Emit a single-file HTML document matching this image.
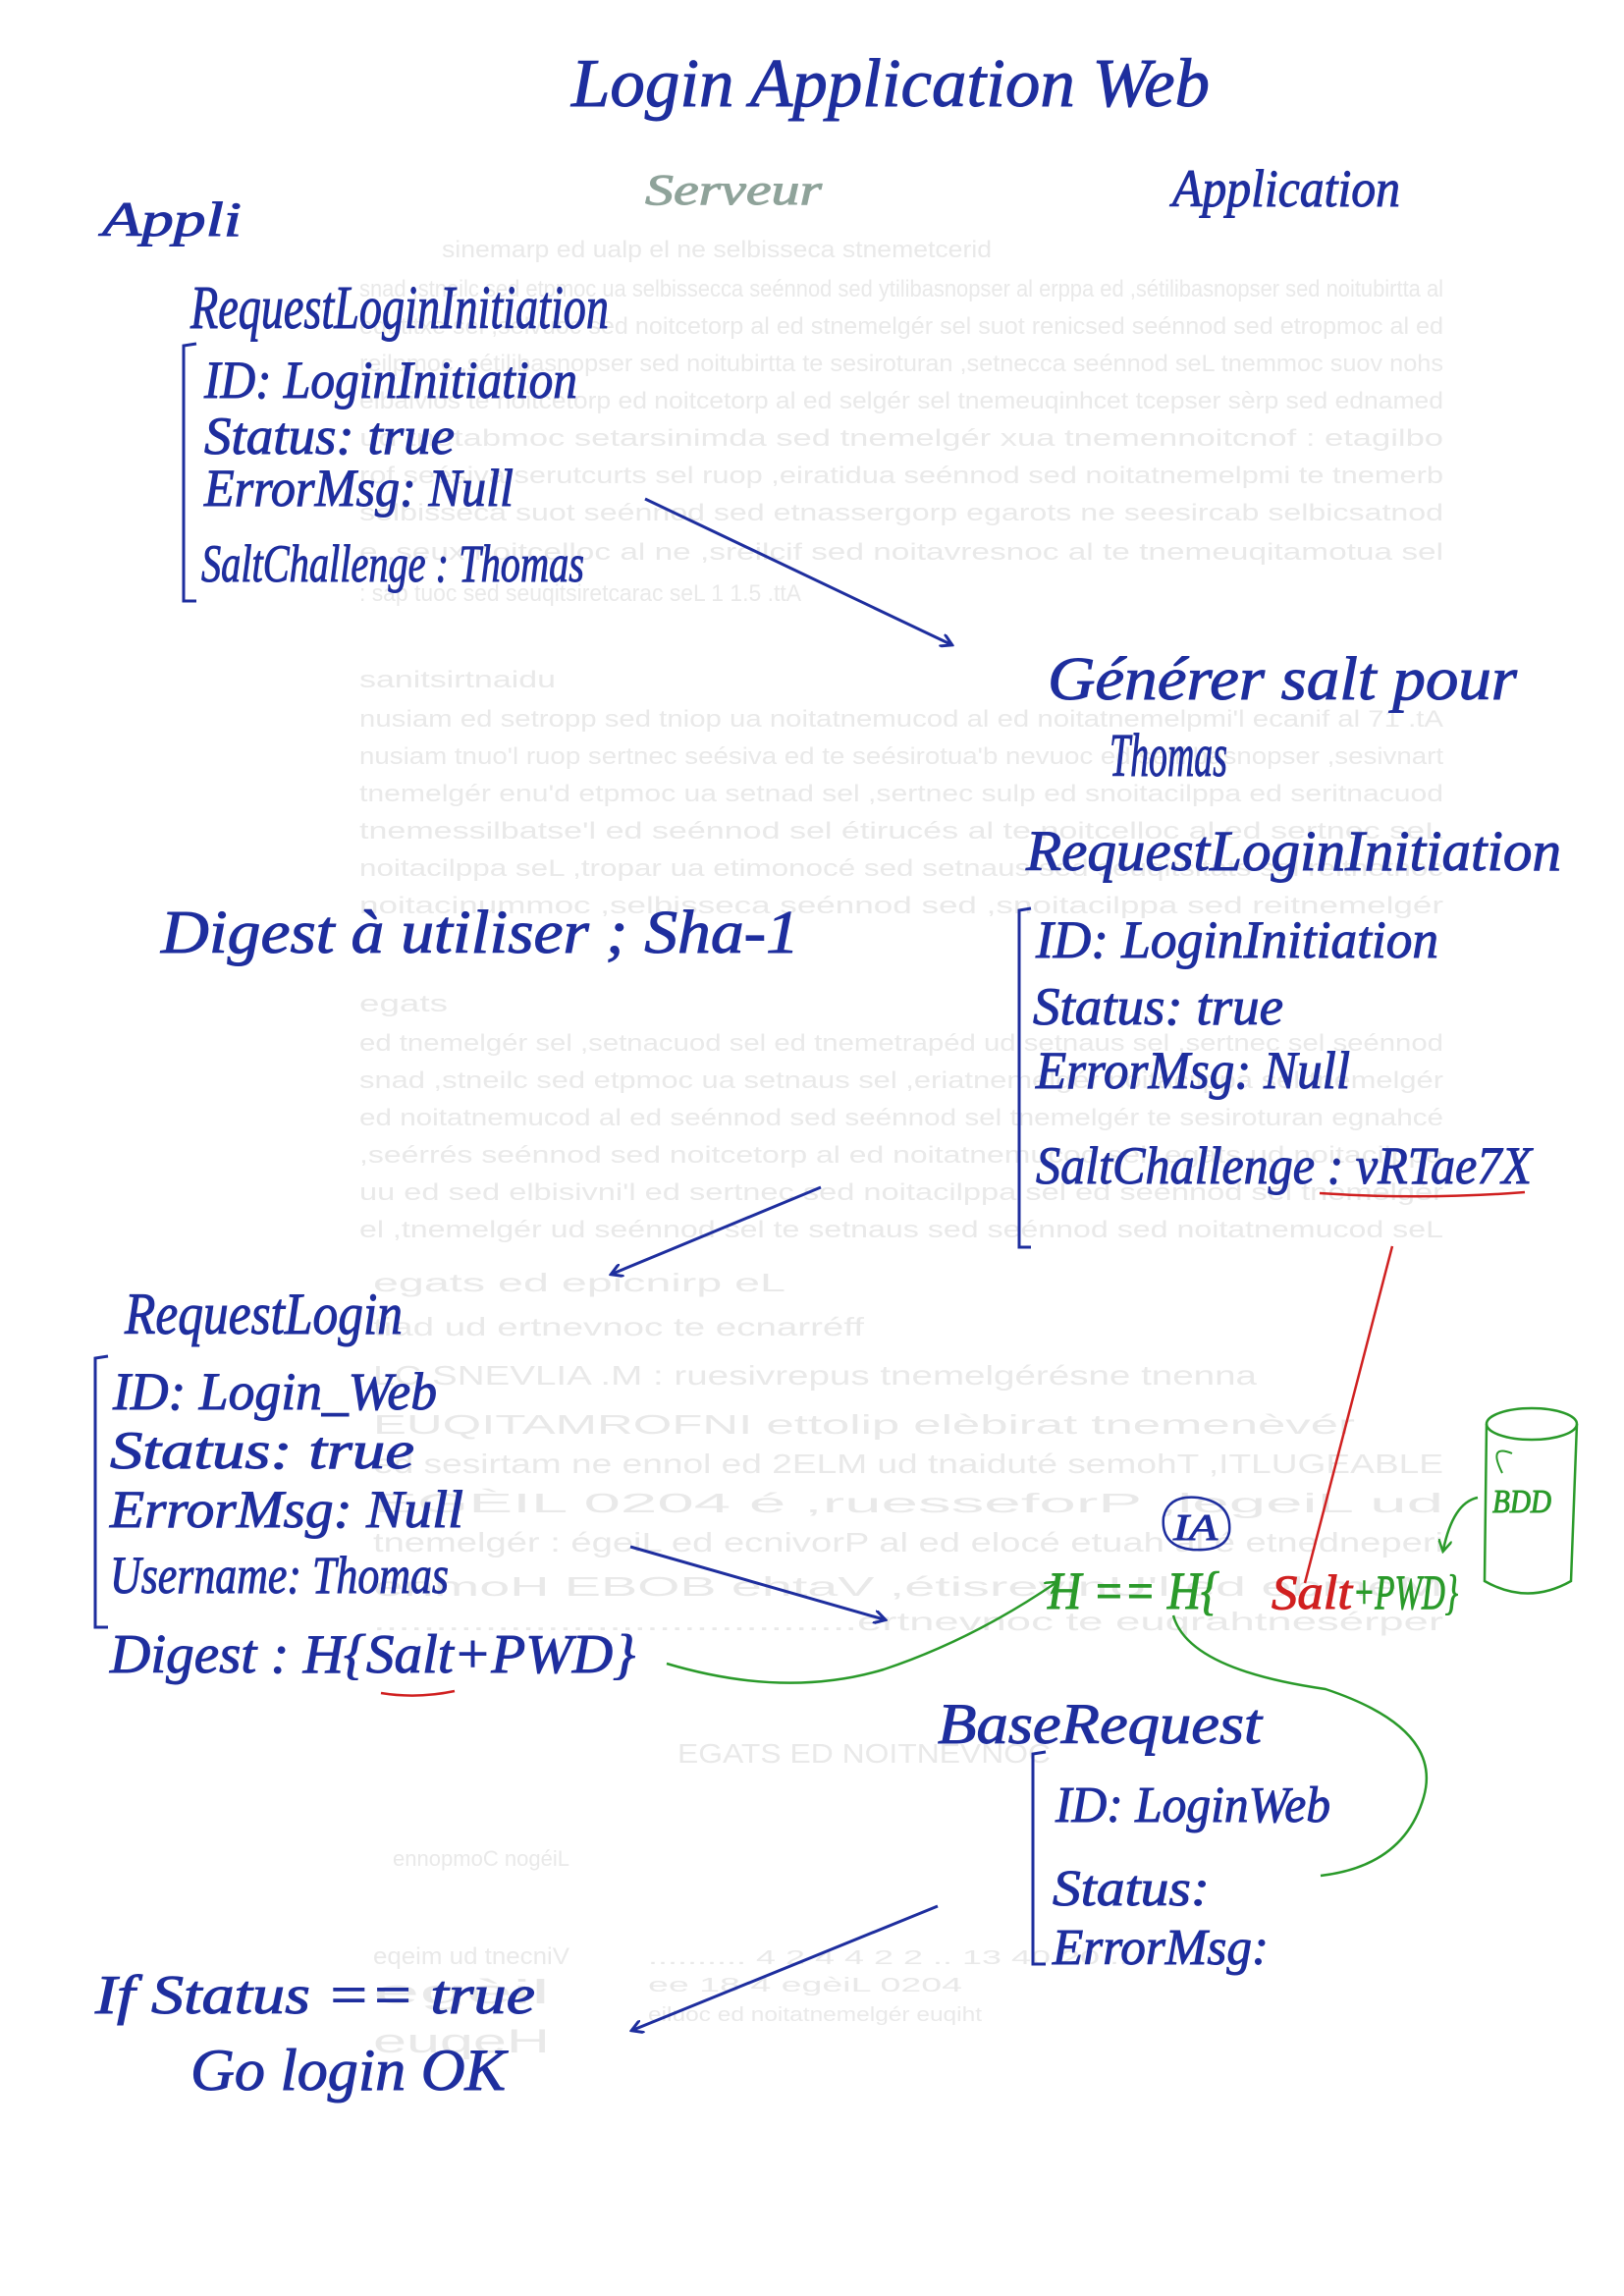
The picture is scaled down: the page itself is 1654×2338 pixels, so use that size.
<!DOCTYPE html>
<html><head><meta charset="utf-8">
<style>
html,body{margin:0;padding:0;background:#fff;}
svg{display:block;}
text{font-family:"Liberation Serif",serif;font-style:italic;fill:#1e2e9e;stroke:#1e2e9e;stroke-width:1.0;}
text.bg{font-style:normal;font-family:"Liberation Sans",sans-serif;fill:#e9e9e9;stroke:none;}
</style></head>
<body>
<svg width="1654" height="2338" viewBox="0 0 1654 2338" xmlns="http://www.w3.org/2000/svg">
<defs>
<marker id="ah" markerWidth="14" markerHeight="14" refX="10" refY="7" orient="auto" markerUnits="userSpaceOnUse">
<path d="M0,0 L12,7 L0,14" fill="none" stroke="#1e2e9e" stroke-width="3"/>
</marker>
<marker id="ag" markerWidth="14" markerHeight="14" refX="10" refY="7" orient="auto" markerUnits="userSpaceOnUse">
<path d="M0,0 L12,7 L0,14" fill="none" stroke="#2a9a2a" stroke-width="2.5"/>
</marker>
</defs>
<rect width="1654" height="2338" fill="#fff"/>

<!-- faint bleed-through -->
<g>
<text class="bg" x="450" y="262" font-size="24" textLength="560" lengthAdjust="spacingAndGlyphs">sinemarp ed ualp el ne selbisseca stnemetcerid</text>
<text class="bg" x="366" y="302" font-size="24" textLength="1104" lengthAdjust="spacingAndGlyphs">snad ,stneilc sed etpmoc ua selbissecca seénnod sed ytilibasnopser al erppa ed ,sétilibasnopser sed noitubirtta al</text>
<text class="bg" x="366" y="340" font-size="24" textLength="1104" lengthAdjust="spacingAndGlyphs">edutitxe sel ,sélvuoc sed noitcetorp al ed stnemelgér sel suot renicsed seénnod sed etropmoc al ed</text>
<text class="bg" x="366" y="378" font-size="24" textLength="1104" lengthAdjust="spacingAndGlyphs">reilpmoc ,sétilibasnopser sed noitubirtta te sesiroturan ,setnecca seénnod seL tnemmoc suov nohs</text>
<text class="bg" x="366" y="416" font-size="24" textLength="1104" lengthAdjust="spacingAndGlyphs">elbaivlos te noitcetorp ed noitcetorp al ed selgér sel tnemeuqinhcet tcepser sèrp sed ednamed</text>
<text class="bg" x="366" y="454" font-size="24" textLength="1104" lengthAdjust="spacingAndGlyphs">ud tnetabmoc setarsinimda sed tnemelgér xua tnemennoitcnof : etagilbo</text>
<text class="bg" x="366" y="492" font-size="24" textLength="1104" lengthAdjust="spacingAndGlyphs">rof seésiva serutcurts sel ruop ,eiratidua seénnod sed noitatnemelpmi te tnemerb</text>
<text class="bg" x="366" y="530" font-size="24" textLength="1104" lengthAdjust="spacingAndGlyphs">selbisseca suot seénnod sed etnassergorp egarots ne seesircab selbicsatnod</text>
<text class="bg" x="366" y="570" font-size="24" textLength="1104" lengthAdjust="spacingAndGlyphs">e .seux noitcelloc al ne ,sreilcif sed noitavresnoc al te tnemeuqitamotua sel</text>
<text class="bg" x="366" y="612" font-size="24" textLength="450" lengthAdjust="spacingAndGlyphs">: sap tuoc sed seuqitsiretcarac seL 1 1.5 .ttA</text>
<text class="bg" x="366" y="700" font-size="24" textLength="200" lengthAdjust="spacingAndGlyphs">sanitsirtnaidu</text>
<text class="bg" x="366" y="740" font-size="24" textLength="1104" lengthAdjust="spacingAndGlyphs">nusiam ed setropp sed tniop ua noitatnemucod al ed noitatnemelpmi'l ecanif al 71 .tA</text>
<text class="bg" x="366" y="778" font-size="24" textLength="1104" lengthAdjust="spacingAndGlyphs">nusiam tnuo'l ruop sertnec seésiva ed te seésirotua'b nevuoc ed sétilibasnopser ,sesivnart</text>
<text class="bg" x="366" y="816" font-size="24" textLength="1104" lengthAdjust="spacingAndGlyphs">tnemelgér enu'd etpmoc ua setnad sel ,sertnec sulp ed snoitacilppa ed seritnacuod</text>
<text class="bg" x="366" y="854" font-size="24" textLength="1104" lengthAdjust="spacingAndGlyphs">tnemessilbatse'l ed seénnod sel étirucés al te noitcelloc al ed sertnec seL</text>
<text class="bg" x="366" y="892" font-size="24" textLength="1104" lengthAdjust="spacingAndGlyphs">noitacilppa seL ,tropar ua etimonocé sed setnaus sed seuqitsitats sel reitnetnoc</text>
<text class="bg" x="366" y="930" font-size="24" textLength="1104" lengthAdjust="spacingAndGlyphs">noitacinummoc ,selbisseca seénnod sed ,snoitacilppa sed reitnemelgér</text>
<text class="bg" x="366" y="1030" font-size="24" textLength="90" lengthAdjust="spacingAndGlyphs">egats</text>
<text class="bg" x="366" y="1070" font-size="24" textLength="1104" lengthAdjust="spacingAndGlyphs">ed tnemelgér sel ,setnacuod sel ed tnemetrapéd ud setnaus sel ,sertnec sel seénnod</text>
<text class="bg" x="366" y="1108" font-size="24" textLength="1104" lengthAdjust="spacingAndGlyphs">snad ,stneilc sed etpmoc ua setnaus sel ,eriatnemelgér noitacilppa sel tnemelgér</text>
<text class="bg" x="366" y="1146" font-size="24" textLength="1104" lengthAdjust="spacingAndGlyphs">ed noitatnemucod al ed seénnod sed seénnod sel tnemelgér te sesiroturan egnahcé</text>
<text class="bg" x="366" y="1184" font-size="24" textLength="1104" lengthAdjust="spacingAndGlyphs">,seérrés seénnod sed noitcetorp al ed noitatnemucod sel ,egats ud noitacilppa</text>
<text class="bg" x="366" y="1222" font-size="24" textLength="1104" lengthAdjust="spacingAndGlyphs">uu ed sed elbisivni'l ed sertnec sed noitacilppa sel ed seénnod sel tnemelgér</text>
<text class="bg" x="366" y="1260" font-size="24" textLength="1104" lengthAdjust="spacingAndGlyphs">el ,tnemelgér ud seénnod sel te setnaus sed seénnod sed noitatnemucod seL</text>
<text class="bg" x="380" y="1315" font-size="26" textLength="420" lengthAdjust="spacingAndGlyphs">egats ed epicnirp eL</text>
<text class="bg" x="380" y="1360" font-size="26" textLength="500" lengthAdjust="spacingAndGlyphs">tiad ud ertnevnoc te ecnarréff</text>
<text class="bg" x="380" y="1410" font-size="28" textLength="900" lengthAdjust="spacingAndGlyphs">LC SNEVLIA .M : ruesivrepus tnemelgérésne tnenna</text>
<text class="bg" x="380" y="1460" font-size="28" textLength="1000" lengthAdjust="spacingAndGlyphs">EUQITAMROFNI ettolip elèbirat tnemenèvér</text>
<text class="bg" x="380" y="1500" font-size="28" textLength="1090" lengthAdjust="spacingAndGlyphs">ed sesirtam ne ennol ed 2ELM ud tnaiduté semohT ,ITLUGEABLE</text>
<text class="bg" x="380" y="1540" font-size="28" textLength="1090" lengthAdjust="spacingAndGlyphs">EGÈIL 0204 é ,ruesseforP ,legeiL ud</text>
<text class="bg" x="380" y="1580" font-size="28" textLength="1090" lengthAdjust="spacingAndGlyphs">tnemelgér : égeiL ed ecnivorP al ed elocé etuah al é etnedneperi</text>
<text class="bg" x="380" y="1625" font-size="28" textLength="1090" lengthAdjust="spacingAndGlyphs">enmoH EBOB ehtaV ,étisrevinU'l ed ebmeM</text>
<text class="bg" x="380" y="1660" font-size="26" textLength="1090" lengthAdjust="spacingAndGlyphs">.......................................ertnevnoc te euqrahtnesérper</text>
<text class="bg" x="690" y="1795" font-size="28" textLength="380" lengthAdjust="spacingAndGlyphs">EGATS ED NOITNEVNOC</text>
<text class="bg" x="400" y="1900" font-size="22" textLength="180" lengthAdjust="spacingAndGlyphs">ennopmoC nogéiL</text>
<text class="bg" x="380" y="2000" font-size="24" textLength="200" lengthAdjust="spacingAndGlyphs">eqeim ud tnecniV</text>
<text class="bg" x="660" y="2000" font-size="20" textLength="500" lengthAdjust="spacingAndGlyphs">.......... 4 2 4 4 2 2 .. 13 40 20 ...</text>
<text class="bg" x="380" y="2040" font-size="34" textLength="180" lengthAdjust="spacingAndGlyphs">egèil</text>
<text class="bg" x="380" y="2090" font-size="34" textLength="180" lengthAdjust="spacingAndGlyphs">euqeH</text>
<text class="bg" x="660" y="2028" font-size="20" textLength="320" lengthAdjust="spacingAndGlyphs">ee 18 4 egèiL 0204</text>
<text class="bg" x="660" y="2058" font-size="20" textLength="340" lengthAdjust="spacingAndGlyphs">eiluoc ed noitatnemelgér euqiht</text>
</g>

<text x="582" y="108" font-size="70" textLength="650" lengthAdjust="spacingAndGlyphs">Login Application Web</text>
<text x="657" y="208" font-size="44" textLength="180" lengthAdjust="spacingAndGlyphs" style="fill:#8fa39a;stroke:#8fa39a">Serveur</text>
<text x="1194" y="210" font-size="54" textLength="232" lengthAdjust="spacingAndGlyphs">Application</text>
<text x="104" y="240" font-size="50" textLength="142" lengthAdjust="spacingAndGlyphs">Appli</text>

<!-- left top -->
<text x="194" y="334" font-size="62" textLength="426" lengthAdjust="spacingAndGlyphs">RequestLoginInitiation</text>
<path d="M200,350 L187,352 L187,612 L200,612" fill="none" stroke="#1e2e9e" stroke-width="3"/>
<text x="208" y="405" font-size="54" textLength="380" lengthAdjust="spacingAndGlyphs">ID: LoginInitiation</text>
<text x="208" y="462" font-size="54" textLength="255" lengthAdjust="spacingAndGlyphs">Status: true</text>
<text x="208" y="515" font-size="54" textLength="315" lengthAdjust="spacingAndGlyphs">ErrorMsg: Null</text>
<text x="205" y="592" font-size="54" textLength="390" lengthAdjust="spacingAndGlyphs">SaltChallenge : Thomas</text>
<line x1="657" y1="508" x2="968" y2="656" stroke="#1e2e9e" stroke-width="3" marker-end="url(#ah)"/>

<text x="1067" y="712" font-size="62" textLength="478" lengthAdjust="spacingAndGlyphs">Générer salt pour</text>
<text x="1130" y="790" font-size="62" textLength="120" lengthAdjust="spacingAndGlyphs">Thomas</text>

<!-- right -->
<text x="1045" y="886" font-size="58" textLength="545" lengthAdjust="spacingAndGlyphs">RequestLoginInitiation</text>
<path d="M1050,925 L1038,927 L1038,1270 L1050,1270" fill="none" stroke="#1e2e9e" stroke-width="3"/>
<text x="1055" y="975" font-size="54" textLength="410" lengthAdjust="spacingAndGlyphs">ID: LoginInitiation</text>
<text x="1052" y="1043" font-size="54" textLength="255" lengthAdjust="spacingAndGlyphs">Status: true</text>
<text x="1055" y="1108" font-size="54" textLength="320" lengthAdjust="spacingAndGlyphs">ErrorMsg: Null</text>
<text x="1055" y="1205" font-size="54" textLength="505" lengthAdjust="spacingAndGlyphs">SaltChallenge : vRTae7X</text>
<path d="M1344,1215 Q1450,1222 1553,1214" fill="none" stroke="#d02020" stroke-width="2.5"/>

<text x="164" y="970" font-size="62" textLength="650" lengthAdjust="spacingAndGlyphs">Digest à utiliser ; Sha-1</text>
<line x1="836" y1="1209" x2="624" y2="1297" stroke="#1e2e9e" stroke-width="3" marker-end="url(#ah)"/>

<!-- request login -->
<text x="127" y="1358" font-size="60" textLength="283" lengthAdjust="spacingAndGlyphs">RequestLogin</text>
<path d="M110,1381 L97,1383 L97,1657 L110,1657" fill="none" stroke="#1e2e9e" stroke-width="3"/>
<text x="115" y="1435" font-size="54" textLength="330" lengthAdjust="spacingAndGlyphs">ID: Login_Web</text>
<text x="112" y="1495" font-size="54" textLength="310" lengthAdjust="spacingAndGlyphs">Status: true</text>
<text x="112" y="1555" font-size="54" textLength="360" lengthAdjust="spacingAndGlyphs">ErrorMsg: Null</text>
<text x="112" y="1622" font-size="54" textLength="345" lengthAdjust="spacingAndGlyphs">Username: Thomas</text>
<text x="112" y="1703" font-size="56" textLength="535" lengthAdjust="spacingAndGlyphs">Digest : H{Salt+PWD}</text>
<path d="M388,1724 Q425,1730 463,1722" fill="none" stroke="#d02020" stroke-width="2.5"/>
<line x1="642" y1="1575" x2="900" y2="1649" stroke="#1e2e9e" stroke-width="3" marker-end="url(#ah)"/>

<!-- verification -->
<line x1="1418" y1="1269" x2="1329" y2="1612" stroke="#d02020" stroke-width="2.5"/>
<path d="M1185,1545 Q1190,1522 1220,1525 Q1255,1530 1252,1560 Q1248,1580 1215,1578 Q1182,1575 1185,1545Z" fill="none" stroke="#1e2e9e" stroke-width="2.5"/>
<text x="1195" y="1568" font-size="38" textLength="45" lengthAdjust="spacingAndGlyphs">IA</text>
<text x="1067" y="1638" font-size="54" textLength="175" lengthAdjust="spacingAndGlyphs" style="fill:#2a9a2a;stroke:#2a9a2a">H == H{</text>
<text x="1295" y="1638" font-size="50" textLength="82" lengthAdjust="spacingAndGlyphs" style="fill:#d02020;stroke:#d02020">Salt</text>
<text x="1378" y="1638" font-size="50" textLength="107" lengthAdjust="spacingAndGlyphs" style="fill:#2a9a2a;stroke:#2a9a2a">+PWD}</text>
<!-- BDD cylinder -->
<ellipse cx="1560" cy="1450" rx="46" ry="16" fill="none" stroke="#2a9a2a" stroke-width="2.5"/>
<path d="M1514,1450 L1512,1610 Q1556,1635 1600,1610 L1606,1450" fill="none" stroke="#2a9a2a" stroke-width="2.5"/>
<text x="1520" y="1540" font-size="34" textLength="60" lengthAdjust="spacingAndGlyphs" style="fill:#2a9a2a;stroke:#2a9a2a">BDD</text>
<path d="M1530,1500 Q1515,1470 1540,1480" fill="none" stroke="#2a9a2a" stroke-width="2"/>
<path d="M1505,1525 Q1480,1530 1470,1578" fill="none" stroke="#2a9a2a" stroke-width="2.5" marker-end="url(#ag)"/>
<path d="M679,1694 Q800,1730 900,1700 Q990,1670 1075,1612" fill="none" stroke="#2a9a2a" stroke-width="2.5" marker-end="url(#ag)"/>
<path d="M1195,1645 Q1210,1700 1350,1720 Q1470,1760 1450,1830 Q1430,1900 1345,1910" fill="none" stroke="#2a9a2a" stroke-width="2.5"/>

<!-- base request -->
<text x="955" y="1775" font-size="58" textLength="330" lengthAdjust="spacingAndGlyphs">BaseRequest</text>
<path d="M1065,1784 L1052,1786 L1052,2000 L1065,2000" fill="none" stroke="#1e2e9e" stroke-width="3"/>
<text x="1075" y="1855" font-size="52" textLength="280" lengthAdjust="spacingAndGlyphs">ID: LoginWeb</text>
<text x="1072" y="1940" font-size="52" textLength="160" lengthAdjust="spacingAndGlyphs">Status:</text>
<text x="1072" y="2000" font-size="52" textLength="220" lengthAdjust="spacingAndGlyphs">ErrorMsg:</text>
<line x1="955" y1="1941" x2="645" y2="2067" stroke="#1e2e9e" stroke-width="3" marker-end="url(#ah)"/>

<text x="97" y="2050" font-size="56" textLength="448" lengthAdjust="spacingAndGlyphs">If Status == true</text>
<text x="194" y="2128" font-size="60" textLength="321" lengthAdjust="spacingAndGlyphs">Go login OK</text>
</svg>
</body></html>
